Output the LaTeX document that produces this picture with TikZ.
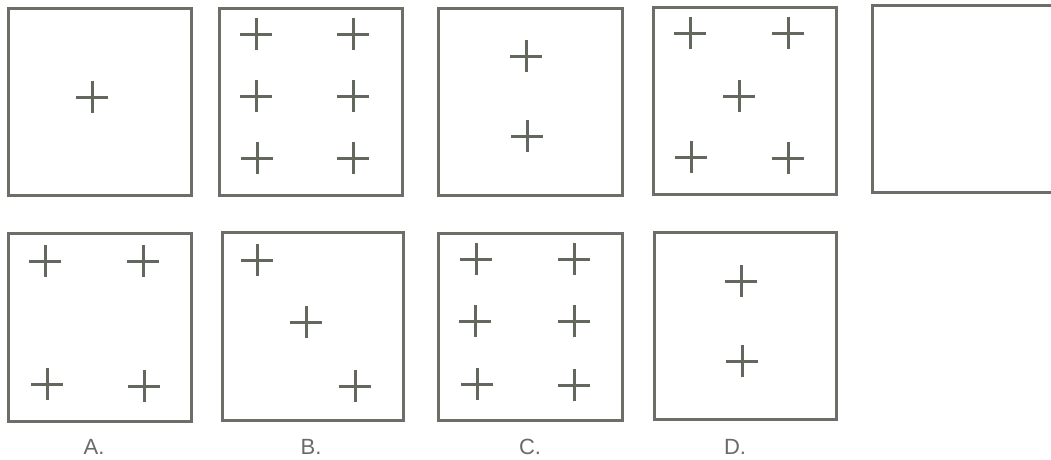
\documentclass[tikz,border=0pt]{standalone}
\usepackage{fontspec}
\setmainfont{Liberation Sans}
\definecolor{boxgray}{HTML}{6B6F68}
\definecolor{crossgray}{HTML}{62685E}
\definecolor{txtgray}{HTML}{6A6A6A}
\begin{document}
\begin{tikzpicture}[x=1pt,y=-1pt,
  frame/.style={draw=boxgray,line width=3pt},
  crossmark/.style={draw=crossgray,line width=3pt},
  lbl/.style={text=txtgray,font=\fontsize{22}{22}\selectfont,anchor=base,inner sep=0pt}]
\useasboundingbox (0,0) rectangle (1051,459);
\clip (0,0) rectangle (1051,459);
\newcommand{\crs}[2]{\draw[crossmark] (#1-16,#2) -- (#1+16,#2) (#1,#2-16) -- (#1,#2+16);}
% top row
\draw[frame] (8,8) rectangle (191,195);
\crs{92}{97}
\draw[frame] (219,8) rectangle (402,195);
\crs{256}{34}\crs{353}{34}
\crs{256}{96}\crs{353}{96}
\crs{257}{158}\crs{353}{158}
\draw[frame] (438,8) rectangle (622,195);
\crs{526}{56}\crs{527}{136}
\draw[frame] (653,7) rectangle (836,194);
\crs{690}{33}\crs{788}{33}
\crs{739}{96}
\crs{691}{157}\crs{788}{158}
\draw[frame] (872,5) rectangle (1056,192);
% bottom row
\draw[frame] (8,233) rectangle (191,421);
\crs{45}{261}\crs{143}{261}
\crs{47}{384}\crs{144}{386}
\draw[frame] (222,232) rectangle (403,420);
\crs{257}{260}\crs{306}{322}\crs{355}{386}
\draw[frame] (438,233) rectangle (622,420);
\crs{476}{259}\crs{574}{259}
\crs{475}{321}\crs{574}{321}
\crs{477}{384}\crs{574}{385}
\draw[frame] (654,232) rectangle (836,419);
\crs{741}{281}\crs{742}{361}
% labels
\node[lbl] (la) at (94,454) {A.};
\node[lbl] (lb) at (311,454) {B.};
\node[lbl] (lc) at (530,454) {C.};
\node[lbl] (ld) at (735,454) {D.};
\end{tikzpicture}
\end{document}
